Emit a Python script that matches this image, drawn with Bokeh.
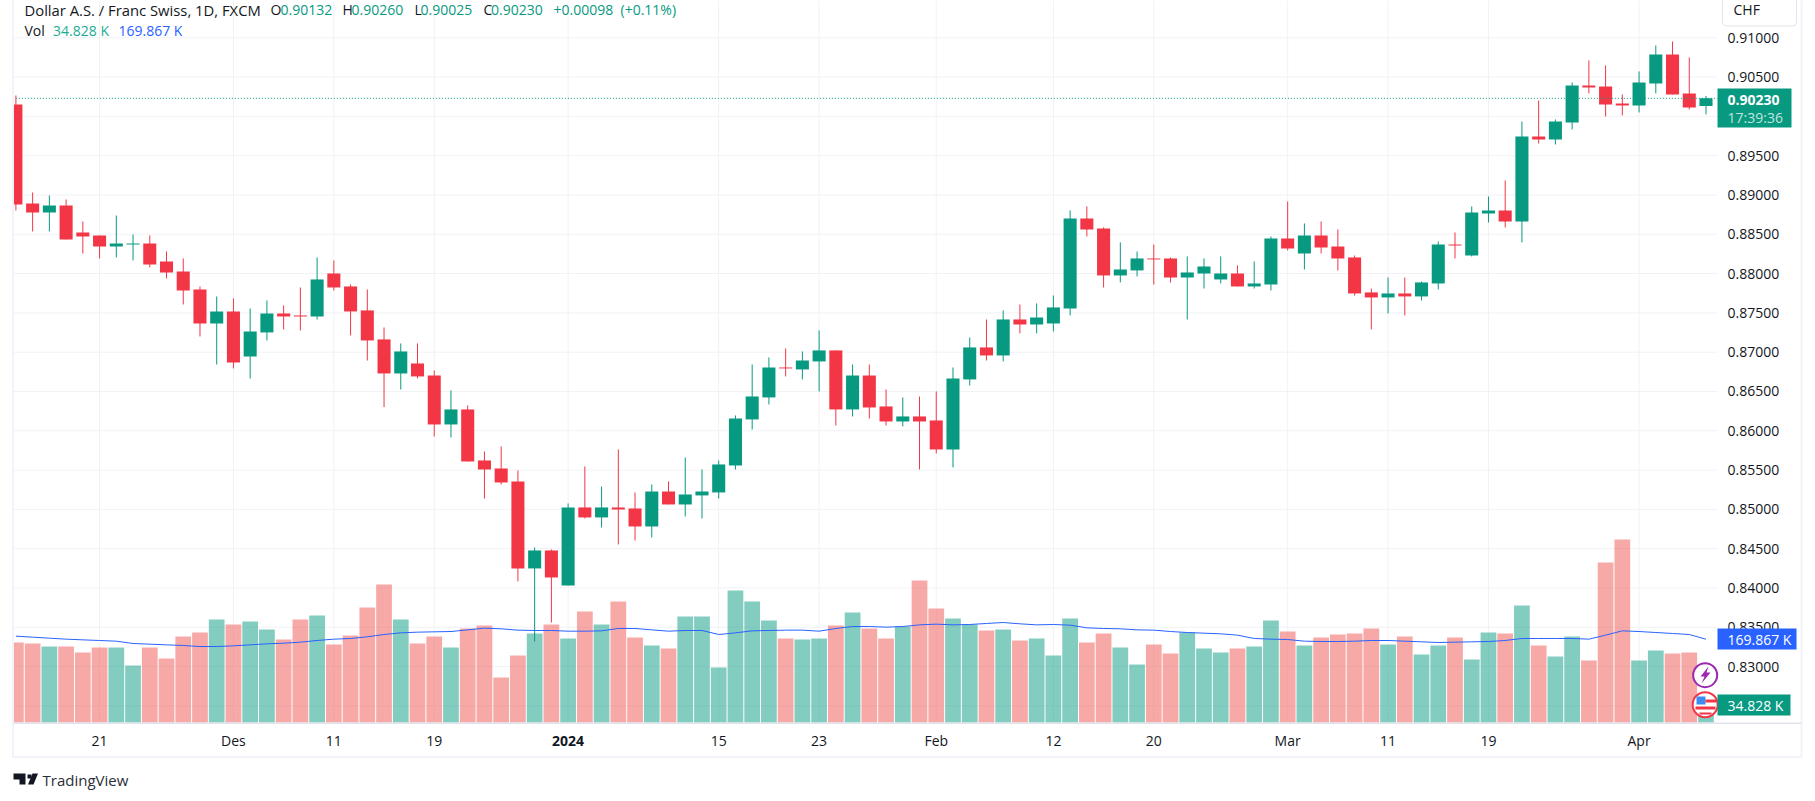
from bokeh.plotting import figure
from bokeh.models import (Range1d, FixedTicker, Label, BoxAnnotation, PolyAnnotation,
                          NumeralTickFormatter, ColumnDataSource)
from bokeh.embed import file_html
from bokeh.resources import INLINE

opens = [.90152,.88892,.88778,.88867,.88523,.88485,.88345,.8837,.88383,.88154,.88027,.87798,.87365,.87518,.86945,.87251,.87492,.87467,.87454,.88001,.87836,.87531,.87162,.86729,.86856,.86703,.8608,.86271,.85622,.8552,.85355,.84248,.84477,.84032,.85024,.84897,.85024,.85011,.84782,.85227,.85062,.85177,.85215,.85558,.86144,.86424,.86805,.8678,.86882,.87022,.86271,.86703,.86309,.86118,.86182,.86131,.85762,.86653,.8706,.86958,.87416,.87352,.87365,.87556,.88701,.88574,.87976,.8804,.88192,.88192,.8795,.88001,.87925,.88001,.87836,.87861,.88447,.88256,.88485,.88345,.88205,.8776,.87696,.87747,.87709,.87874,.8837,.8823,.88765,.88803,.88663,.89745,.89706,.89923,.90393,.90381,.90164,.90139,.90419,.90788,.90292,.90132]
closes = [.88879,.88778,.88867,.88434,.88472,.88345,.88383,.88383,.88116,.88014,.87785,.87365,.87518,.86869,.87263,.87492,.87454,.87454,.87925,.87823,.87518,.87149,.86729,.87009,.86691,.8608,.86271,.85609,.85507,.85342,.84248,.84477,.84133,.85024,.84897,.85024,.84998,.84782,.85227,.85062,.85189,.85227,.85571,.86156,.86436,.86805,.86793,.86894,.87022,.86271,.86703,.86296,.86118,.86182,.86118,.85762,.86665,.8706,.86958,.87416,.87352,.87441,.87569,.88701,.88561,.87976,.88052,.88192,.8818,.8795,.88014,.8809,.88001,.87836,.87874,.88447,.88319,.88485,.88332,.88192,.87747,.87696,.87747,.87709,.87887,.8837,.88358,.88778,.88803,.88663,.89745,.89706,.89935,.90393,.90368,.90152,.90139,.90432,.90788,.90279,.90114,.9023]
highs = [.90266,.89032,.88994,.88943,.88663,.88485,.88739,.88498,.88485,.88281,.88192,.87836,.87709,.87683,.87556,.87658,.87594,.87823,.88205,.88167,.87861,.87798,.87314,.87111,.87111,.86767,.86513,.86322,.85736,.858,.85495,.84515,.84489,.85075,.85546,.85291,.85762,.85215,.85317,.85355,.8566,.85507,.85622,.86195,.86843,.86933,.87047,.87009,.87276,.87022,.86843,.86843,.86525,.86424,.86436,.865,.86805,.87187,.87416,.87531,.87607,.8762,.87721,.88803,.88854,.88587,.88396,.88281,.8837,.88205,.88218,.88192,.88218,.88103,.88154,.88472,.88917,.88638,.88663,.88561,.8823,.8781,.8795,.8795,.87899,.88409,.88523,.88854,.88981,.89185,.89935,.90203,.89961,.90432,.90712,.90648,.90279,.90572,.90902,.90953,.9075,.9026]
lows = [.88803,.88536,.88536,.88434,.88256,.88192,.88205,.88167,.88078,.87938,.87607,.872,.86843,.86793,.86665,.87149,.87289,.87276,.87416,.87785,.87212,.86894,.86301,.86525,.86665,.85927,.85915,.85609,.85138,.85317,.84082,.83319,.8356,.84032,.84884,.84769,.84553,.84604,.84642,.85062,.84909,.84884,.85138,.85507,.86016,.86334,.86691,.86653,.865,.86067,.86182,.86156,.86067,.86055,.85507,.85711,.85533,.86576,.86894,.86882,.87238,.87238,.87263,.87467,.88472,.87823,.87887,.87963,.87861,.87887,.87416,.8781,.87874,.87836,.8781,.87785,.88294,.88052,.88256,.8804,.87721,.87289,.87492,.87467,.87658,.87798,.88192,.88218,.8865,.88587,.88396,.89655,.89643,.89834,.90292,.89999,.90012,.9005,.90292,.90279,.90088,.90025]
volumes_k = [163.2,161.2,155,155,142.8,153,153,116.3,153,130.6,175.4,183.6,210.1,199.9,206,189.7,169.3,210.1,218.3,159.1,177.5,234.6,281.5,210.1,161.2,175.4,153,191.8,197.9,91.8,136.7,181.6,199.9,171.4,226.4,199.9,246.8,173.4,157.1,151,216.2,216.2,112.2,269.3,246.8,208.1,171.4,169.3,171.4,197.9,224.4,191.8,171.4,195.8,289.7,232.6,212.2,199.9,187.7,189.7,167.3,171.4,136.7,212.2,163.2,181.6,153,118.3,159.1,140.8,183.6,151,142.8,151,155,208.1,185.6,157.1,173.4,179.5,181.6,191.8,159.1,175.4,138.7,157.1,173.4,128.5,183.6,181.6,238.7,157.1,134.6,175.4,126.5,326.4,373.3,126.5,146.9,140.8,142.8,34.828]
vol_ma_k = [176.1,174.1,172,170,168.6,167.3,165.9,161.2,159.8,158.4,157.1,155,155,156.4,158.4,160.5,161.8,163.9,167.3,170,171.4,174.8,179.5,182.9,184.3,185,185.6,189,192.4,191.1,188.4,187.7,187.7,186.3,186.3,187,191.8,191.8,189,186.3,187.7,187.7,179.5,182.9,187,187.7,188.4,188.4,186.3,191.8,195.8,195.8,194.5,195.8,199.2,200.6,199.2,199.9,202,204,201.3,199.2,199.9,198.6,193.1,191.8,191.1,189,188.4,185.6,183.6,182.2,180.9,178.2,171.4,170,169.3,165.9,165.2,165.2,165.9,167.3,167.3,165.9,164.6,163.2,163.9,164.6,165.2,167.3,171.4,171.4,171.4,171.4,170,178.2,187,185.6,183.6,181.6,179.5,169.867]

x_tick_pos = [5, 13, 19, 25, 33, 42, 48, 55, 62, 68, 76, 82, 88, 97]
x_tick_txt = ["21", "Des", "11", "19", "", "15", "23", "Feb", "12", "20", "Mar", "11", "19", "Apr"]
year_pos, year_txt = 33, "2024"
y_ticks = [0.825, 0.83, 0.835, 0.84, 0.845, 0.85, 0.855, 0.86, 0.865, 0.87, 0.875, 0.88, 0.885, 0.89, 0.895, 0.9, 0.905, 0.91]

GREEN, RED, BLUE, GRID, TEXT = "#089981", "#F23645", "#2962FF", "#F1F2F6", "#131722"
FONT = "Open Sans"
FS = "14px"

# chart pane limits, in data units
PANE_LEFT, PANE_RIGHT = -0.1434, 101.685
PANE_BOTTOM, PANE_TOP = 0.82288, 0.914746

x = list(range(len(opens)))
colors = [GREEN if c >= o else RED for o, c in zip(opens, closes)]
vcolors = [GREEN if c == GREEN else "#EF5350" for c in colors]
src = ColumnDataSource(dict(x=x, o=opens, c=closes, h=highs, l=lows, v=volumes_k, ma=vol_ma_k,
                            col=colors, vcol=vcolors,
                            top=[max(a, b) for a, b in zip(opens, closes)],
                            bot=[min(a, b) for a, b in zip(opens, closes)]))

p = figure(width=1805, height=790, output_backend="svg", toolbar_location=None, tools="",
           x_range=Range1d(-0.9203, 106.946), y_range=Range1d(0.814224, 0.914746),
           y_axis_location="right", min_border_left=0, min_border_right=0,
           min_border_top=0, min_border_bottom=0)
p.extra_y_ranges = {"vol": Range1d(-138.72, 1472.88)}
p.outline_line_color = None
p.background_fill_color = "white"
p.grid.visible = False

# grid, limited to the chart pane
p.segment(x0=x_tick_pos, x1=x_tick_pos, y0=[PANE_BOTTOM] * len(x_tick_pos), y1=[PANE_TOP] * len(x_tick_pos),
          line_color=GRID, line_width=1)
p.segment(x0=[PANE_LEFT] * len(y_ticks), x1=[PANE_RIGHT] * len(y_ticks), y0=y_ticks, y1=y_ticks,
          line_color=GRID, line_width=1)

ya = p.yaxis[0]
ya.fixed_location = PANE_RIGHT
ya.ticker = FixedTicker(ticks=y_ticks)
ya.formatter = NumeralTickFormatter(format="0.00000")
ya.major_tick_line_color = None
ya.minor_tick_line_color = None
ya.major_tick_out = 0
ya.major_tick_in = 0
ya.axis_line_color = None
ya.major_label_standoff = 10
ya.major_label_text_font = FONT
ya.major_label_text_font_size = FS
ya.major_label_text_color = TEXT

xa = p.xaxis[0]
xa.fixed_location = PANE_BOTTOM
xa.ticker = FixedTicker(ticks=x_tick_pos)
xa.major_label_overrides = dict(zip(x_tick_pos, x_tick_txt))
xa.major_tick_line_color = None
xa.minor_tick_line_color = None
xa.major_tick_out = 0
xa.major_tick_in = 0
xa.axis_line_color = None
xa.major_label_standoff = 9
xa.major_label_text_font = FONT
xa.major_label_text_font_size = FS
xa.major_label_text_color = TEXT

p.vbar(x="x", width=0.94, bottom=0, top="v", fill_color="vcol", fill_alpha=0.5, line_color=None,
       source=src, y_range_name="vol")
p.line(x="x", y="ma", line_color=BLUE, line_width=1, source=src, y_range_name="vol")
p.segment(x0="x", x1="x", y0="l", y1="h", line_color="col", line_width=1, source=src)
p.vbar(x="x", width=0.78, bottom="bot", top="top", fill_color="col", line_color=None, source=src)
p.line(x=[x[0], PANE_RIGHT], y=[closes[-1], closes[-1]], line_color=GREEN, line_width=1, line_dash="1 2")


def label(text, x, y, color=TEXT, size=FS, style="normal", align="left", alpha=1.0):
    p.add_layout(Label(x=x, y=y, x_units="canvas", y_units="canvas", text=text, text_color=color,
                       text_font=FONT, text_font_size=size, text_font_style=style, text_align=align,
                       text_baseline="middle", text_alpha=alpha))


def box(l, r, t, b, fill=None, line=None, width=1, radius=0):
    p.add_layout(BoxAnnotation(left=l, right=r, top=t, bottom=b, left_units="canvas", right_units="canvas",
                               top_units="canvas", bottom_units="canvas", fill_color=fill,
                               fill_alpha=1 if fill else 0, line_color=line, line_width=width,
                               line_alpha=1 if line else 0, border_radius=radius))


def poly(xs, ys, fill):
    p.add_layout(PolyAnnotation(xs=xs, ys=ys, xs_units="canvas", ys_units="canvas", fill_color=fill,
                                fill_alpha=1, line_color=None))


# left clip, outer frame and axis separator
box(0, 12.5, 0, 790, "white")
box(12.5, 1801, -5, 756.5, None, "#F0F3FA", 2)
box(13, 1801, 722, 723.5, "#E0E3EB")

p.add_layout(Label(x=year_pos, y=740, x_units="data", y_units="canvas", text=year_txt, text_color=TEXT,
                   text_font=FONT, text_font_size=FS, text_font_style="bold", text_align="center",
                   text_baseline="middle"))

# header
label("Dollar A.S. / Franc Swiss, 1D, FXCM", 24, 9, size="14.8px")
for t, xx in [("O", 270), ("H", 342), ("L", 414), ("C", 483)]:
    label(t, xx, 9)
for t, xx in [("0.90132", 280), ("0.90260", 351), ("0.90025", 420), ("0.90230", 490.5), ("+0.00098", 553), ("(+0.11%)", 620)]:
    label(t, xx, 9, GREEN)
label("Vol", 24, 30)
label("34.828 K", 52.6, 30, "#22AB94")
label("169.867 K", 118, 30, BLUE)

# currency button
box(1722, 1796, -6, 25.5, "white", "#E0E3EB", 1, 4)
label("CHF", 1733, 9)

# last-value tags
box(1717, 1791, 88, 127, GREEN)
label("0.90230", 1727, 99, "white", style="bold")
label("17:39:36", 1727, 117, "white", alpha=0.75)
box(1717, 1796, 628, 649, BLUE)
label("169.867 K", 1727, 639, "white")
box(1717, 1790, 694, 715, GREEN)
label("34.828 K", 1727, 705, "white")

# event icons
p.scatter(x=[100.95], y=[0.8289], size=24, marker="circle", fill_color="white", line_color="#9C27B0", line_width=2)
p.scatter(x=[100.95], y=[0.82515], size=25, marker="circle", fill_color="white", line_color=RED, line_width=2)
poly([1708, 1700, 1704, 1701, 1710, 1706], [666, 676, 676, 683, 672, 672], "#9C27B0")
box(1696, 1705, 696, 704, "#3D8BF0")
box(1705, 1716, 699, 702, RED)
box(1695, 1715, 706, 709, RED)
box(1699, 1711, 712, 714, RED)

# logo
poly([13, 25, 25, 19, 19, 13], [773, 773, 784, 784, 779, 779], "#131722")
poly([27, 31, 31, 27], [774, 774, 778, 778], "#131722")
poly([32, 37.5, 33, 27.5], [773, 773, 784, 784], "#131722")
label("TradingView", 42, 779, "#2A2E39", "15px")

open("out.html", "w").write(file_html(p, INLINE))
